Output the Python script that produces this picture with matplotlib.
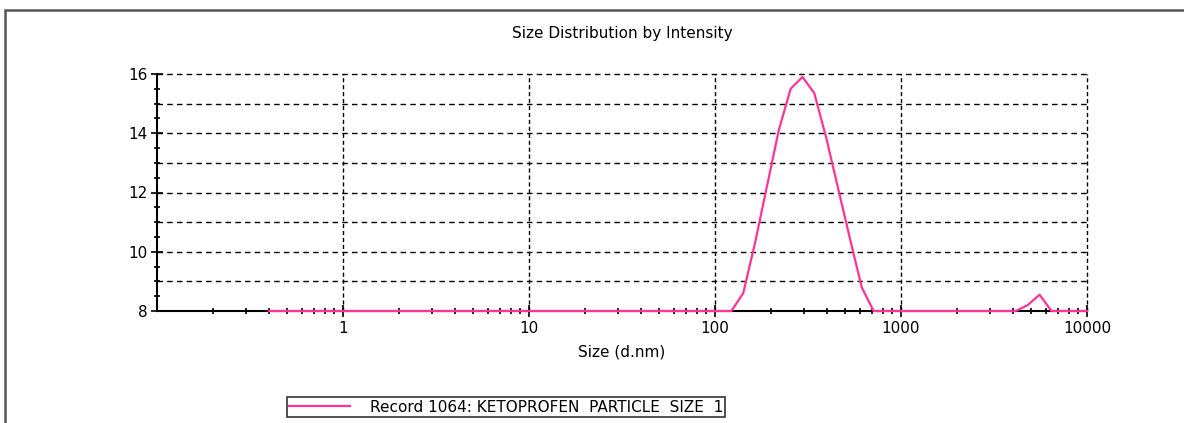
import matplotlib
matplotlib.use("Agg")
import matplotlib.pyplot as plt
from matplotlib.ticker import LogLocator, MultipleLocator, FixedLocator, FixedFormatter, NullFormatter
from matplotlib.patches import Rectangle

# size bins (d.nm) and intensity
sizes = [0.4, 1, 10, 100, 122.4, 141.8, 164.2, 190.1, 220.2, 255.0, 295.3, 342.0,
         396.1, 458.7, 531.2, 615.1, 712.4, 1000, 3580, 4145, 4801, 5560, 6439, 10000]
intensity = [8, 8, 8, 8, 8, 8.6, 10.3, 12.2, 14.1, 15.5, 15.9, 15.35,
             13.85, 12.15, 10.45, 8.8, 8, 8, 8, 8, 8.2, 8.55, 8, 8]

x_ticks = [1, 10, 100, 1000, 10000]
x_labels = ["1", "10", "100", "1000", "10000"]
y_ticks = [8, 10, 12, 14, 16]
series_name = "Record 1064: KETOPROFEN  PARTICLE  SIZE  1"

plt.rcParams['font.family'] = 'DejaVu Sans'

W, H = 1184, 423
fig = plt.figure(figsize=(W / 100, H / 100), dpi=100)
ax = fig.add_axes([157 / W, 1 - 311 / H, (1087 - 157) / W, (311 - 74) / H])

# outer frame of the report panel
fig.patches.append(Rectangle((5 / W, -0.1), 1.2, 1 - 10 / H + 0.1, transform=fig.transFigure,
                             fill=False, edgecolor='#555555', linewidth=1.8))

line, = ax.plot(sizes, intensity, color='#ff3399', linewidth=1.6, zorder=5, clip_on=False)

ax.set_xscale('log')
ax.set_xlim(0.1, 10000)
ax.set_ylim(8, 16)

ax.xaxis.set_major_locator(FixedLocator(x_ticks))
ax.xaxis.set_major_formatter(FixedFormatter(x_labels))
ax.xaxis.set_minor_locator(LogLocator(base=10, subs=range(2, 10), numticks=20))
ax.xaxis.set_minor_formatter(NullFormatter())
ax.yaxis.set_major_locator(FixedLocator(y_ticks))
ax.yaxis.set_minor_locator(MultipleLocator(0.5))

ax.tick_params(which='both', direction='inout', color='black', width=1.2)
ax.tick_params(which='major', length=8, labelsize=11, pad=3)
ax.tick_params(which='minor', length=5)

# grid: dashed horizontals every 1, dashed verticals at decades
for yv in range(9, 17):
    ax.axhline(yv, color='black', linestyle=(0, (4, 3)), linewidth=1, zorder=1, clip_on=False)
for xv in x_ticks:
    ax.axvline(xv, color='black', linestyle=(0, (3, 2)), linewidth=1, zorder=1, clip_on=False)

ax.spines['top'].set_visible(False)
ax.spines['right'].set_visible(False)
ax.spines['left'].set_linewidth(1.5)
ax.spines['bottom'].set_linewidth(1.5)

ax.set_title("Size Distribution by Intensity", fontsize=11, pad=26)
ax.set_xlabel("Size (d.nm)", fontsize=11, labelpad=6)

leg = fig.legend([line], [series_name], loc='center', bbox_to_anchor=(506 / W, 1 - 407 / H),
                 fontsize=11, frameon=True, fancybox=False, edgecolor='black',
                 handlelength=4, borderpad=0.15, handletextpad=1.3, borderaxespad=0)
leg.get_frame().set_linewidth(1.2)

fig.savefig("out.png", dpi=100)
